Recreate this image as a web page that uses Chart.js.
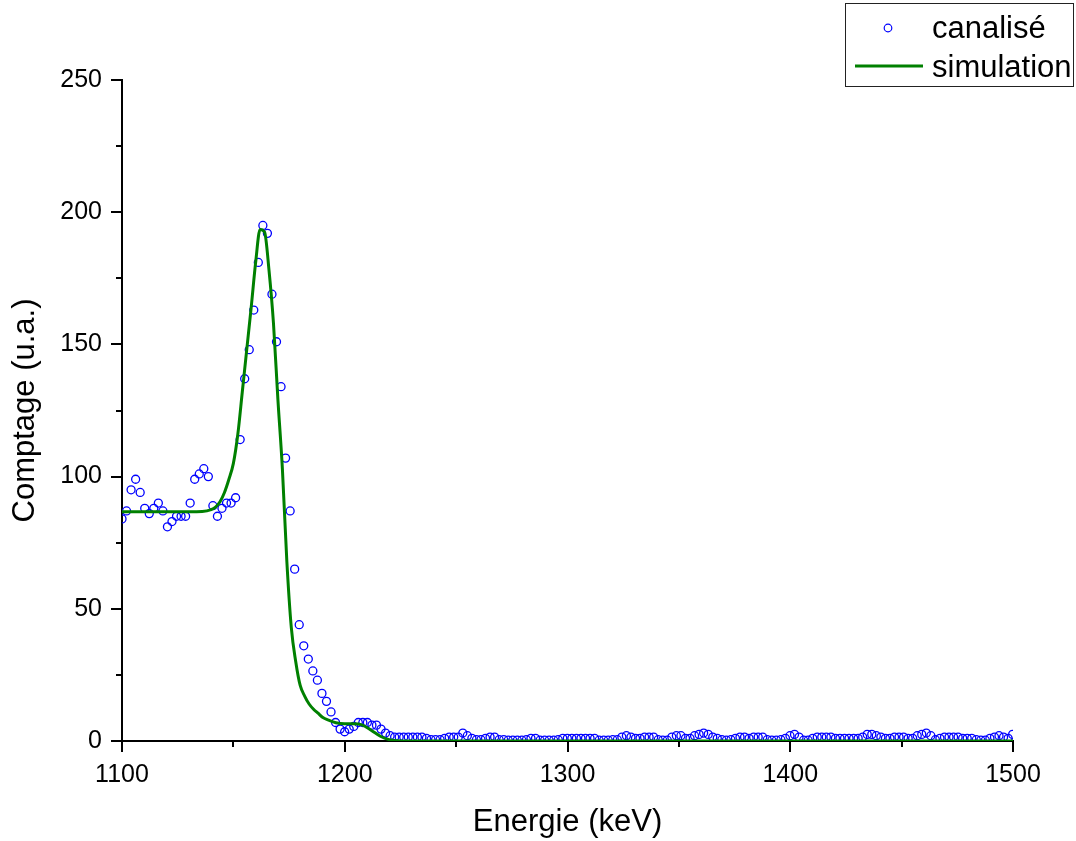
<!DOCTYPE html>
<html>
<head>
<meta charset="utf-8">
<script src="https://cdn.jsdelivr.net/npm/chart.js@4.4.1/dist/chart.umd.min.js"></script>
<style>
  html, body { margin: 0; padding: 0; background: #fff; }
  #cadre { width: 1076px; height: 841px; }
</style>
</head>
<body>
<div id="cadre"><canvas id="spectreChart" width="1076" height="841"></canvas></div>
<script>
// étalonnage des canaux (keV)
const energieDebut = 1100;
const pasCanal = 2.04;

// comptages mesurés (canalisé), un par canal
const comptage = [
    84, 87, 95, 99, 94, 88, 86, 88, 90, 87, 81, 83, 85, 85, 85, 90, 99, 101, 103, 100,
    89, 85, 88, 90, 90, 92, 114, 137, 148, 163, 181, 195, 192, 169, 151, 134, 107, 87, 65, 44,
    36, 31, 26.5, 23, 18, 15, 11, 7, 4.5, 3.5, 4.5, 5.5, 7, 7, 7, 6, 6, 4.5, 3, 2,
    1.5, 1.5, 1.5, 1.5, 1.5, 1.5, 1.5, 1, 0.5, 0.5, 0.5, 1, 1.5, 1.5, 1.5, 3, 2, 1, 0.5, 0.5,
    1, 1.5, 1.5, 0.5, 0.5, 0.3, 0.3, 0.3, 0.3, 0.5, 1, 1, 0.3, 0.3, 0.3, 0.3, 0.5, 1, 1, 1,
    1, 1, 1, 1, 1, 0.3, 0.3, 0.3, 0.5, 0.5, 1.5, 2, 1.5, 1, 1, 1.5, 1.5, 1.5, 0.5, 0.3,
    0.3, 1.5, 2, 2, 1, 1, 2, 2.5, 3, 2.5, 1.5, 1, 0.5, 0.3, 0.5, 1, 1.5, 1.5, 1, 1.5,
    1.5, 1.5, 0.5, 0.3, 0.3, 0.5, 1, 2, 2.5, 1.5, 0.3, 0.3, 1, 1.5, 1.5, 1.5, 1.5, 1, 1, 1,
    1, 1, 1, 1.5, 2.5, 2.5, 2, 1.5, 1, 1, 1.5, 1.5, 1.5, 1, 1, 2, 2.5, 3, 2, 0.5,
    1, 1.5, 1.5, 1.5, 1.5, 1, 1, 1, 0.5, 0.3, 0.3, 1, 1.5, 2, 1.5, 1, 2.5
];

// courbe simulée
const simEnergies = [1100, 1110, 1120, 1130, 1136, 1140, 1142, 1144, 1146, 1148, 1150, 1152, 1154, 1156,
    1158, 1160, 1162, 1164, 1166, 1168, 1170, 1172, 1174, 1176, 1178, 1180, 1182, 1184, 1186, 1188,
    1190, 1193, 1196, 1200, 1204, 1208, 1212, 1216, 1220, 1224, 1228, 1300, 1400, 1500];
const simValeurs = [86.7, 86.7, 86.7, 86.7, 86.8, 87.5, 88.5, 90.5, 94, 99, 105, 116, 132, 148,
    164, 181, 193.5, 192.5, 178, 158, 129, 103, 68, 43, 30, 21, 17, 14, 12, 10.5,
    9, 7.8, 6.9, 6.5, 6.5, 6, 4, 1.8, 0.5, 0.1, 0, 0, 0, 0];

// graduations
const xTicks = [1100, 1200, 1300, 1400, 1500];
const xMineures = [1150, 1250, 1350, 1450];
const yTicks = [0, 50, 100, 150, 200, 250];
const yMineures = [25, 75, 125, 175, 225];

const police = "Arial, 'Liberation Sans', sans-serif";

const pointsMesure = comptage.map((v, i) => ({ x: energieDebut + i * pasCanal, y: v }));
const pointsSim = simEnergies.map((e, i) => ({ x: e, y: simValeurs[i] }));

// petites graduations (Chart.js n'en fait pas)
const graduationsMineures = {
    id: 'graduationsMineures',
    afterDraw(chart) {
        const ctx = chart.ctx;
        const { x, y } = chart.scales;
        ctx.save();
        ctx.strokeStyle = '#000';
        ctx.lineWidth = 2;
        ctx.beginPath();
        xMineures.forEach(v => {
            const px = Math.round(x.getPixelForValue(v));
            ctx.moveTo(px, chart.chartArea.bottom);
            ctx.lineTo(px, chart.chartArea.bottom + 6);
        });
        yMineures.forEach(v => {
            const py = Math.round(y.getPixelForValue(v));
            ctx.moveTo(chart.chartArea.left, py);
            ctx.lineTo(chart.chartArea.left - 6, py);
        });
        ctx.stroke();
        ctx.restore();
    }
};

// légende encadrée en haut à droite
const legendeCadre = {
    id: 'legendeCadre',
    afterDraw(chart) {
        const ctx = chart.ctx;
        const ds = chart.data.datasets;
        ctx.save();
        ctx.strokeStyle = '#222';
        ctx.lineWidth = 1;
        ctx.strokeRect(845.5, 3.5, 228, 83);
        ctx.font = '31px ' + police;
        ctx.fillStyle = '#000';
        ctx.textBaseline = 'middle';
        ctx.textAlign = 'left';
        // canalisé
        ctx.beginPath();
        ctx.arc(888, 28, 3.8, 0, Math.PI * 2);
        ctx.strokeStyle = ds[0].borderColor;
        ctx.lineWidth = 1.2;
        ctx.stroke();
        ctx.fillText(ds[0].label, 932, 29);
        // simulation
        ctx.beginPath();
        ctx.moveTo(855, 66);
        ctx.lineTo(923, 66);
        ctx.strokeStyle = ds[1].borderColor;
        ctx.lineWidth = 3;
        ctx.stroke();
        ctx.fillText(ds[1].label, 932, 68);
        ctx.restore();
    }
};

new Chart(document.getElementById('spectreChart').getContext('2d'), {
    type: 'scatter',
    data: {
        datasets: [
            {
                label: 'canalisé',
                data: pointsMesure,
                showLine: false,
                pointStyle: 'circle',
                pointRadius: 4,
                pointBorderWidth: 1.3,
                borderColor: '#0000ff',
                backgroundColor: 'rgba(0,0,0,0)',
                clip: 0,
                order: 1
            },
            {
                label: 'simulation',
                data: pointsSim,
                showLine: true,
                borderColor: '#008000',
                backgroundColor: '#008000',
                borderWidth: 3,
                pointRadius: 0,
                cubicInterpolationMode: 'monotone',
                clip: 0,
                order: 0
            }
        ]
    },
    options: {
        responsive: false,
        animation: false,
        layout: { padding: { left: 0, right: 63, top: 80, bottom: 0 } },
        plugins: {
            legend: { display: false },
            tooltip: { enabled: false }
        },
        scales: {
            x: {
                type: 'linear',
                min: 1100,
                max: 1500,
                afterFit: s => { s.height = 100; },
                afterBuildTicks: s => { s.ticks = xTicks.map(v => ({ value: v })); },
                ticks: {
                    color: '#000',
                    font: { family: police, size: 25 },
                    padding: 8,
                    callback: v => String(v)
                },
                grid: {
                    drawOnChartArea: false,
                    drawTicks: true,
                    tickLength: 11,
                    color: '#000',
                    lineWidth: 2
                },
                border: { display: true, color: '#000', width: 2 },
                title: {
                    display: true,
                    text: 'Energie (keV)',
                    color: '#000',
                    font: { family: police, size: 31 },
                    padding: { bottom: 0 }
                }
            },
            y: {
                type: 'linear',
                min: 0,
                max: 250,
                afterFit: s => { s.width = 122; },
                afterBuildTicks: s => { s.ticks = yTicks.map(v => ({ value: v })); },
                ticks: {
                    color: '#000',
                    font: { family: police, size: 25 },
                    padding: 9,
                    callback: v => String(v)
                },
                grid: {
                    drawOnChartArea: false,
                    drawTicks: true,
                    tickLength: 11,
                    color: '#000',
                    lineWidth: 2
                },
                border: { display: true, color: '#000', width: 2 },
                title: {
                    display: true,
                    text: 'Comptage (u.a.)',
                    color: '#000',
                    font: { family: police, size: 31 },
                    padding: { top: 7 }
                }
            }
        }
    },
    plugins: [graduationsMineures, legendeCadre]
});
</script>
</body>
</html>
